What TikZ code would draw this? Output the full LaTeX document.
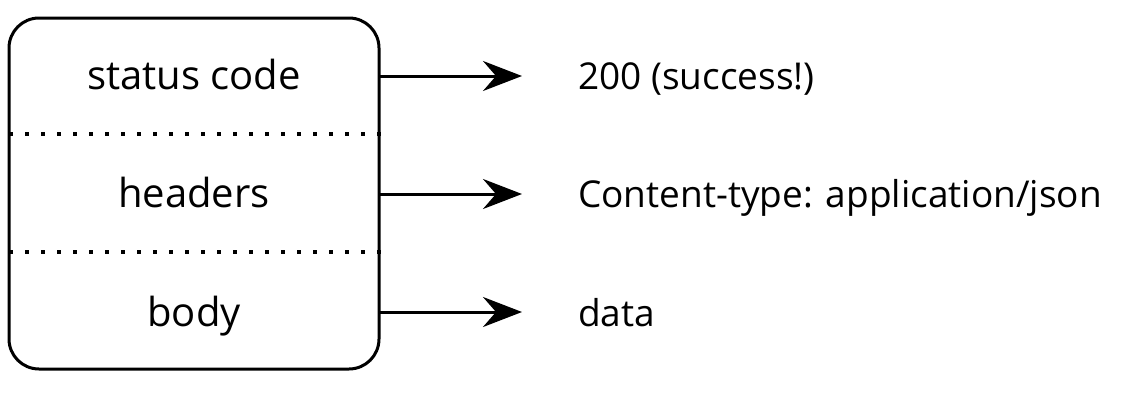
\documentclass[tikz,border=0pt]{standalone}
\usepackage{fontspec}
\setmainfont{Open Sans}
\usetikzlibrary{arrows.meta}
\begin{document}
\begin{tikzpicture}[x=1pt,y=-1pt,
  lbl/.style={font=\fontsize{40}{44}\selectfont, inner sep=0pt, anchor=base},
  rlbl/.style={font=\fontsize{37}{40}\selectfont, inner sep=0pt, anchor=base west},
  arr/.style={line width=3pt, -{Stealth[length=39pt,width=30pt,inset=13pt]}},
  sep/.style={line width=3.5pt, dash pattern=on 3.5pt off 12.5pt}]
\useasboundingbox (0,0) rectangle (1125,407);
\draw[line width=3pt, rounded corners=30pt] (9,18) rectangle (379,369);
\node[lbl] (sc) at (194,89) {status code};
\node[lbl] (hd) at (194,207) {headers};
\node[lbl] (bd) at (194,326) {body};
\coordinate (d1l) at (9,134); \coordinate (d1r) at (381,134);
\coordinate (d2l) at (9,252); \coordinate (d2r) at (381,252);
\draw[sep] (d1l) -- (d1r);
\draw[sep] (d2l) -- (d2r);
\coordinate (a1) at (379,76); \coordinate (b1) at (522,76);
\coordinate (a2) at (379,194); \coordinate (b2) at (522,194);
\coordinate (a3) at (379,312); \coordinate (b3) at (522,312);
\draw[arr] (a1) -- (b1);
\draw[arr] (a2) -- (b2);
\draw[arr] (a3) -- (b3);
\node[rlbl] (r1) at (578,89) {200 (success!)};
\node[rlbl] (r2) at (578,207) {Content-type: application/json};
\node[rlbl] (r3) at (578,326) {data};
\end{tikzpicture}
\end{document}
